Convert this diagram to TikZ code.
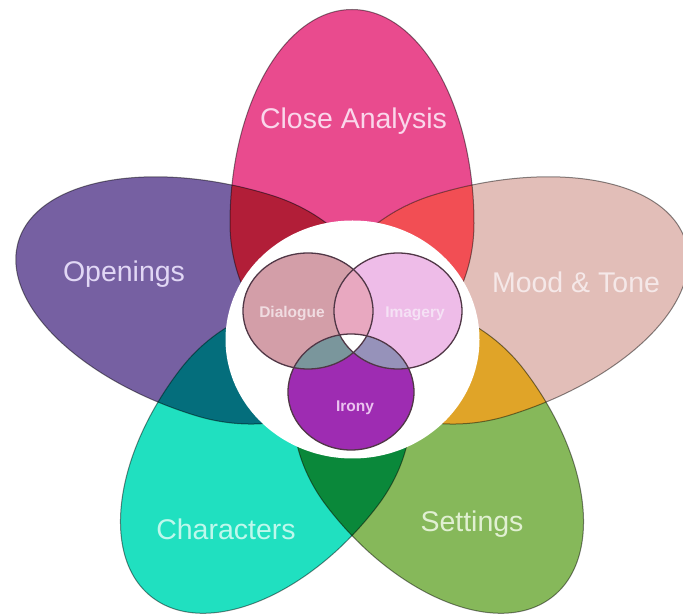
\documentclass[tikz,border=0pt]{standalone}
\usepackage{fontspec}
\setmainfont{Liberation Sans}
\definecolor{cClose}{RGB}{233,75,142}
\definecolor{cOpen}{RGB}{118,96,162}
\definecolor{cMood}{RGB}{226,190,184}
\definecolor{cChar}{RGB}{32,224,192}
\definecolor{cSet}{RGB}{134,184,90}
\definecolor{xCO}{RGB}{178,30,56}
\definecolor{xCM}{RGB}{242,78,84}
\definecolor{xMS}{RGB}{224,164,40}
\definecolor{xSC}{RGB}{10,136,58}
\definecolor{xChO}{RGB}{4,110,124}
\definecolor{vDia}{RGB}{211,158,168}
\definecolor{vIma}{RGB}{238,188,232}
\definecolor{vIro}{RGB}{158,44,178}
\definecolor{vDI}{RGB}{232,168,192}
\definecolor{vDR}{RGB}{122,150,156}
\definecolor{vIR}{RGB}{150,146,186}
\definecolor{vLine}{RGB}{80,55,70}
\definecolor{tClose}{RGB}{250,215,235}
\definecolor{tOpen}{RGB}{225,215,245}
\definecolor{tMood}{RGB}{245,232,232}
\definecolor{tChar}{RGB}{190,248,236}
\definecolor{tSet}{RGB}{225,240,210}
\definecolor{tDia}{RGB}{240,220,225}
\definecolor{tIma}{RGB}{245,225,245}
\definecolor{tIro}{RGB}{235,195,240}
\newcommand\petalshape[1]{(125,-122) arc[start angle=-90,end angle=90,x radius=#1,y radius=122] arc[start angle=90,end angle=270,x radius=150,y radius=122] -- cycle}
\newcommand\pairfill[4]{%
  \begin{scope}[rotate=#1]\clip\petalshape{#2};
    \begin{scope}[rotate=#3]\fill[#4]\petalshape{225};\end{scope}
  \end{scope}}
\tikzset{
  lbl/.style={font=\fontsize{28.5}{30}\selectfont, inner sep=0pt, anchor=base},
  small/.style={font=\bfseries\fontsize{15.5}{17}\selectfont, inner sep=0pt, anchor=base},
  petalline/.style={draw=black, draw opacity=0.45, line width=1pt},
  vennline/.style={draw=vLine, line width=1.3pt}
}
\begin{document}
\begin{tikzpicture}[x=1pt,y=1pt]
\useasboundingbox[fill=white] (0,0) rectangle (683,616);
\begin{scope}[shift={(352,274)}, yscale=0.95]
  % petals
  \begin{scope}[rotate=90]\fill[cClose]\petalshape{225};\end{scope}
  \begin{scope}[rotate=162]\fill[cOpen]\petalshape{225};\end{scope}
  \begin{scope}[rotate=18]\fill[cMood]\petalshape{225};\end{scope}
  \begin{scope}[rotate=234]\fill[cChar]\petalshape{210};\end{scope}
  \begin{scope}[rotate=306]\fill[cSet]\petalshape{210};\end{scope}
  % overlaps
  \begin{scope}[rotate=90]\clip\petalshape{225};
    \begin{scope}[rotate=72]\fill[xCO]\petalshape{225};\end{scope}\end{scope}
  \begin{scope}[rotate=90]\clip\petalshape{225};
    \begin{scope}[rotate=-72]\fill[xCM]\petalshape{225};\end{scope}\end{scope}
  \begin{scope}[rotate=18]\clip\petalshape{225};
    \begin{scope}[rotate=-72]\fill[xMS]\petalshape{210};\end{scope}\end{scope}
  \begin{scope}[rotate=306]\clip\petalshape{210};
    \begin{scope}[rotate=-72]\fill[xSC]\petalshape{210};\end{scope}\end{scope}
  \begin{scope}[rotate=234]\clip\petalshape{210};
    \begin{scope}[rotate=-72]\fill[xChO]\petalshape{225};\end{scope}\end{scope}
  % outlines
  \begin{scope}[rotate=90]\path[petalline]\petalshape{225};\end{scope}
  \begin{scope}[rotate=162]\path[petalline]\petalshape{225};\end{scope}
  \begin{scope}[rotate=18]\path[petalline]\petalshape{225};\end{scope}
  \begin{scope}[rotate=234]\path[petalline]\petalshape{210};\end{scope}
  \begin{scope}[rotate=306]\path[petalline]\petalshape{210};\end{scope}
\end{scope}
% white centre
\fill[white] (352.5,276.5) ellipse[x radius=127, y radius=119];
% inner Venn
\fill[vDia] (308,305) ellipse[x radius=65, y radius=58];
\fill[vIma] (398,305) ellipse[x radius=64, y radius=58];
\fill[vIro] (351,224) ellipse[x radius=63, y radius=58];
\begin{scope}\clip (308,305) ellipse[x radius=65, y radius=58];
  \fill[vDI] (398,305) ellipse[x radius=64, y radius=58];
  \fill[vDR] (351,224) ellipse[x radius=63, y radius=58];
  \clip (398,305) ellipse[x radius=64, y radius=58];
  \fill[white] (351,224) ellipse[x radius=63, y radius=58];
\end{scope}
\begin{scope}\clip (398,305) ellipse[x radius=64, y radius=58];
  \clip (351,224) ellipse[x radius=63, y radius=58];
  \fill[vIR] (398,305) ellipse[x radius=64, y radius=58];
  \clip (308,305) ellipse[x radius=65, y radius=58];
  \fill[white] (351,224) ellipse[x radius=63, y radius=58];
\end{scope}
\path[vennline] (308,305) ellipse[x radius=65, y radius=58];
\path[vennline] (398,305) ellipse[x radius=64, y radius=58];
\path[vennline] (351,224) ellipse[x radius=63, y radius=58];
% labels
\node[lbl, text=tClose] (close) at (353.5,487) {Close Analysis};
\node[lbl, text=tOpen] (open) at (124,334) {Openings};
\node[lbl, text=tMood] (mood) at (576,323) {Mood \& Tone};
\node[lbl, text=tChar] (char) at (226,76) {Characters};
\node[lbl, text=tSet] (set) at (472,84) {Settings};
\node[small, text=tDia] (dia) at (292,298) {Dialogue};
\node[small, text=tIma] (ima) at (415,298) {Imagery};
\node[small, text=tIro] (iro) at (355,204) {Irony};
\end{tikzpicture}
\end{document}
